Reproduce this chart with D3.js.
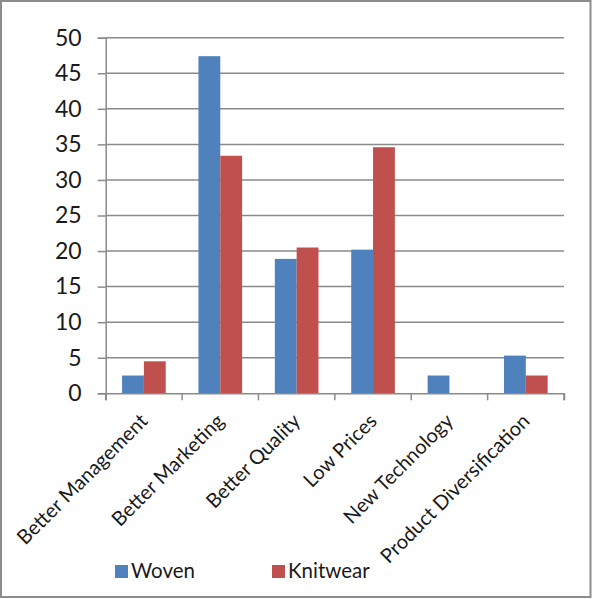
<!DOCTYPE html>
<html>
<head>
<meta charset="utf-8">
<script src="https://cdn.jsdelivr.net/npm/d3@7"></script>
<style>
  html, body { margin: 0; padding: 0; background: #fff; }
  svg { display: block; }
</style>
</head>
<body>
<svg id="chart" width="592" height="599"></svg>
<script>
const categories = ["Better Management", "Better Marketing", "Better Quality", "Low Prices", "New Technology", "Product Diversification"];
const seriesNames = ["Woven", "Knitwear"];
const woven = [2.5, 47.4, 18.9, 20.2, 2.5, 5.3];
const knitwear = [4.5, 33.4, 20.5, 34.6, 0, 2.5];
const yTicks = [0, 5, 10, 15, 20, 25, 30, 35, 40, 45, 50];
const colors = ["#4F81BD", "#C0504D"];

const svg = d3.select("#chart");
const W = 592, H = 599;
const margin = { left: 105.7, right: 28, top: 37.7, bottom: 205.7 };
const x0 = margin.left, x1 = W - margin.right;
const yTop = margin.top, yBot = H - margin.bottom;

// outer frame
svg.append("rect").attr("x", 1).attr("y", 1).attr("width", 589.5).attr("height", 596)
  .attr("fill", "#fff").attr("stroke", "#8c8c8c").attr("stroke-width", 2);

const x = d3.scaleBand().domain(categories).range([x0, x1]).paddingInner(0).paddingOuter(0);
const xs = d3.scaleBand().domain(seriesNames).range([0, x.bandwidth()]).paddingInner(0).paddingOuter(0.75);
const y = d3.scaleLinear().domain([0, 50]).range([yBot, yTop]);

const font = "Lato, 'Open Sans', sans-serif";

// gridlines
svg.append("g").selectAll("line").data(yTicks.filter(d => d > 0)).join("line")
  .attr("x1", x0).attr("x2", x1).attr("y1", d => y(d)).attr("y2", d => y(d))
  .attr("stroke", "#8a8a8a").attr("stroke-width", 1.5);

// bars
const data = categories.map((c, i) => ({ c, vals: [woven[i], knitwear[i]] }));
const groups = svg.append("g").selectAll("g").data(data).join("g")
  .attr("transform", d => `translate(${x(d.c)},0)`);
groups.selectAll("rect").data(d => d.vals.map((v, j) => ({ v, s: seriesNames[j], col: colors[j] })))
  .join("rect")
  .attr("x", d => xs(d.s)).attr("width", xs.bandwidth())
  .attr("y", d => y(d.v)).attr("height", d => yBot - y(d.v))
  .attr("fill", d => d.col);

// y axis
const yAxis = d3.axisLeft(y).tickValues(yTicks).tickSize(8).tickPadding(16).tickFormat(d3.format("d"));
const gy = svg.append("g").attr("transform", `translate(${x0},0)`).call(yAxis);
gy.select(".domain").attr("stroke", "#8a8a8a").attr("stroke-width", 1.5);
gy.selectAll(".tick line").attr("stroke", "#8a8a8a").attr("stroke-width", 1.5);
gy.selectAll(".tick text").attr("font-family", font).attr("font-size", 23).attr("fill", "#1a1a1a");

// x axis
const xAxis = d3.axisBottom(x).tickSize(7).tickFormat("");
const gx = svg.append("g").attr("transform", `translate(0,${yBot})`).call(xAxis);
gx.selectAll(".tick").remove();
gx.select(".domain").attr("stroke", "#8a8a8a").attr("stroke-width", 1.5);
const edges = categories.map(c => x(c)).concat([x1]);
gx.selectAll("line.edge").data(edges).join("line").attr("class", "edge")
  .attr("x1", d => d).attr("x2", d => d).attr("y1", 0).attr("y2", 7)
  .attr("stroke", "#8a8a8a").attr("stroke-width", 1.5);

// category labels
svg.append("g").selectAll("text").data(categories).join("text")
  .attr("transform", d => `translate(${x(d) + x.bandwidth() / 2 + 5},${yBot + 29}) rotate(-45)`)
  .attr("text-anchor", "end")
  .attr("font-family", font).attr("font-size", 20).attr("fill", "#1a1a1a")
  .text(d => d);

// legend
const legendX = [115, 272];
const lg = svg.append("g").selectAll("g").data(seriesNames).join("g")
  .attr("transform", (d, i) => `translate(${legendX[i]},565)`);
lg.append("rect").attr("width", 13).attr("height", 13).attr("fill", (d, i) => colors[i]);
lg.append("text").attr("x", 16).attr("y", 13)
  .attr("font-family", font).attr("font-size", 20.5).attr("fill", "#1a1a1a")
  .text(d => d);
</script>
</body>
</html>
